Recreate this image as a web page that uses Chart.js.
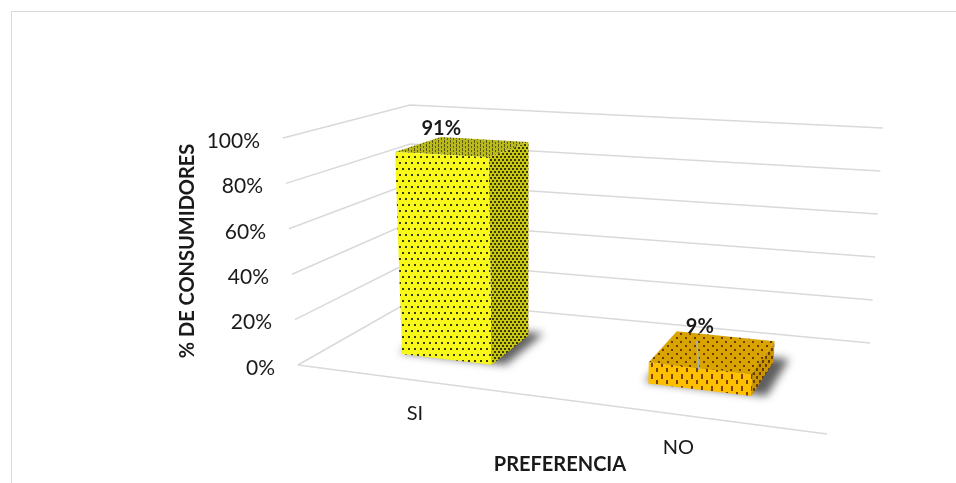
<!DOCTYPE html>
<html><head><meta charset="utf-8">
<script src="https://cdn.jsdelivr.net/npm/chart.js@4.4.1/dist/chart.umd.min.js"></script>
<style>
html,body{margin:0;padding:0;background:#fff;}
#wrap{position:relative;width:956px;height:483px;overflow:hidden;background:#fff;}
#frame{position:absolute;left:11px;top:11px;width:1000px;height:600px;border:1px solid #d9d9d9;box-sizing:border-box;}
canvas{position:absolute;left:0;top:0;}
</style></head><body>
<div id="wrap"><div id="frame"></div><canvas id="c" width="956" height="483"></canvas></div>
<script>
// ---- data ----
const categories = ['SI', 'NO'];
const values = [0.91, 0.09];
const valueLabels = ['91%', '9%'];
const yTicks = [0, 0.2, 0.4, 0.6, 0.8, 1];
const yAxisTitle = '% DE CONSUMIDORES';
const xAxisTitle = 'PREFERENCIA';

// ---- layout of the 3D box (screen corners, key = X Y Z bits) ----
const BOX = {
  '000': [298, 365], '100': [827, 434], '010': [283, 138], '110': [841, 168],
  '001': [412, 300], '101': [870, 343], '011': [410, 105], '111': [883, 128]
};
const PERSP_K = 1.15;          // foreshortening along the category axis
const Z_FRONT = 0.3, Z_BACK = 0.7;
const labelLift = [26, 41];
const FONT = 'Lato, "Open Sans", sans-serif';
const TXT = '#1a1a1a';

function proj(X, Y, Z) {
  const s = X / (X + PERSP_K * (1 - X));
  let x = 0, y = 0;
  for (const a of [0, 1]) for (const b of [0, 1]) for (const c of [0, 1]) {
    const w = (a ? s : 1 - s) * (b ? Y : 1 - Y) * (c ? Z : 1 - Z);
    const p = BOX['' + a + b + c];
    x += w * p[0]; y += w * p[1];
  }
  return [x, y];
}

function makePattern(ctx, bg, dot, w, h, dots) {
  const c = document.createElement('canvas');
  c.width = w; c.height = h;
  const g = c.getContext('2d');
  g.fillStyle = bg; g.fillRect(0, 0, w, h);
  g.fillStyle = dot;
  dots.forEach(d => g.fillRect(d[0], d[1], d[2], d[3]));
  return ctx.createPattern(c, 'repeat');
}

function poly(ctx, pts, fill) {
  ctx.beginPath();
  pts.forEach((p, i) => i ? ctx.lineTo(p[0], p[1]) : ctx.moveTo(p[0], p[1]));
  ctx.closePath();
  ctx.fillStyle = fill;
  ctx.fill();
}

const threeD = {
  id: 'threeD',
  afterDraw(chart) {
    const ctx = chart.ctx;
    const xs = chart.scales.x, ys = chart.scales.y;
    const nx = px => (px - xs.left) / (xs.right - xs.left);
    const ny = v => (ys.bottom - ys.getPixelForValue(v)) / (ys.bottom - ys.top);

    const styles = [
      {
        front: makePattern(ctx, '#f8f81a', '#3c3c08', 6, 12, [[0, 0, 2, 2], [3, 6, 2, 2]]),
        side: makePattern(ctx, '#c8c814', '#3a3a00', 4, 6, [[0, 0, 2, 2], [2, 3, 2, 2]]),
        top: makePattern(ctx, '#b9b91c', '#5a5a10', 6, 4, [[0, 0, 1, 3], [3, 2, 1, 2]])
      },
      {
        front: makePattern(ctx, '#ffc000', '#7a4200', 10, 12, [[1, 2, 2, 5], [6, 8, 2, 4]]),
        side: makePattern(ctx, '#c99500', '#6a3c00', 6, 8, [[0, 0, 2, 3], [3, 4, 2, 3]]),
        top: makePattern(ctx, '#d9a400', '#6b3e00', 9, 8, [[1, 1, 2, 2], [5, 5, 2, 2]])
      }
    ];

    ctx.save();
    // walls: gridlines on back wall and left wall
    ctx.strokeStyle = '#d9d9d9';
    ctx.lineWidth = 1.5;
    ys.ticks.forEach(t => {
      const Y = ny(t.value);
      const a = proj(0, Y, 0), b = proj(0, Y, 1), c = proj(1, Y, 1);
      ctx.beginPath(); ctx.moveTo(a[0], a[1]); ctx.lineTo(b[0], b[1]); ctx.lineTo(c[0], c[1]); ctx.stroke();
    });
    // floor front edge
    {
      const a = proj(0, 0, 0), b = proj(1, 0, 0);
      ctx.beginPath(); ctx.moveTo(a[0], a[1]); ctx.lineTo(b[0], b[1]); ctx.stroke();
    }

    // tick labels
    ctx.fillStyle = TXT;
    ctx.font = '21px ' + FONT;
    ctx.textAlign = 'right';
    ctx.textBaseline = 'middle';
    ys.ticks.forEach(t => {
      const p = proj(0, ny(t.value), 0);
      ctx.fillText(Math.round(t.value * 100) + '%', p[0] - 23, p[1] + 3);
    });

    // bars
    const meta = chart.getDatasetMeta(0);
    meta.data.forEach((el, i) => {
      const X1 = nx(el.x - el.width / 2), X2 = nx(el.x + el.width / 2);
      const Y = (el.base - el.y) / (ys.bottom - ys.top);
      const st = styles[i];
      // ground shadow
      ctx.save();
      ctx.filter = 'blur(4px)';
      poly(ctx, [proj(X1 - 0.01, 0, Z_FRONT + 0.02), proj(X2 + 0.025, 0, Z_FRONT + 0.02),
                 proj(X2 + 0.025, 0, Z_BACK + 0.04), proj(X1 + 0.0, 0, Z_BACK + 0.04)], 'rgba(40,40,40,0.75)');
      ctx.restore();
      // right side face
      poly(ctx, [proj(X2, 0, Z_FRONT), proj(X2, 0, Z_BACK), proj(X2, Y, Z_BACK), proj(X2, Y, Z_FRONT)], st.side);
      // top face
      poly(ctx, [proj(X1, Y, Z_FRONT), proj(X2, Y, Z_FRONT), proj(X2, Y, Z_BACK), proj(X1, Y, Z_BACK)], st.top);
      // front face
      poly(ctx, [proj(X1, 0, Z_FRONT), proj(X2, 0, Z_FRONT), proj(X2, Y, Z_FRONT), proj(X1, Y, Z_FRONT)], st.front);

      // value label
      const xc = (X1 + X2) / 2;
      const ft = proj(xc, Y, Z_FRONT);
      const ly = ft[1] - labelLift[i];
      if (labelLift[i] > 30) {
        ctx.strokeStyle = '#a8b4c4';
        ctx.lineWidth = 1.5;
        ctx.beginPath(); ctx.moveTo(ft[0] - 3, ly + 14); ctx.lineTo(ft[0] - 1, ft[1] + 2); ctx.stroke();
      }
      ctx.fillStyle = TXT;
      ctx.font = 'bold 20px ' + FONT;
      ctx.textAlign = 'center';
      ctx.textBaseline = 'middle';
      ctx.fillText(valueLabels[i], ft[0], ly);

      // category label
      const cp = proj(nx(el.x), 0, 0);
      ctx.font = '20px ' + FONT;
      ctx.fillText(categories[i], cp[0] - 2, cp[1] + 33);
    });

    // axis titles
    ctx.fillStyle = TXT;
    ctx.font = 'bold 20px ' + FONT;
    ctx.textAlign = 'center';
    ctx.textBaseline = 'middle';
    ctx.fillText(xAxisTitle, 560, 465);
    ctx.save();
    ctx.translate(188, 251);
    ctx.rotate(-Math.PI / 2);
    ctx.fillText(yAxisTitle, 0, 0);
    ctx.restore();
    ctx.restore();
  }
};

new Chart(document.getElementById('c'), {
  type: 'bar',
  data: {
    labels: categories,
    datasets: [{
      data: values,
      backgroundColor: 'rgba(0,0,0,0)',
      borderWidth: 0,
      barPercentage: 0.475,
      categoryPercentage: 0.8
    }]
  },
  options: {
    responsive: false,
    animation: false,
    events: [],
    layout: { padding: 0 },
    plugins: { legend: { display: false }, tooltip: { enabled: false } },
    scales: {
      x: { display: false },
      y: {
        display: false, min: 0, max: 1,
        afterBuildTicks: s => { s.ticks = yTicks.map(v => ({ value: v })); }
      }
    }
  },
  plugins: [threeD]
});
</script>
</body></html>
